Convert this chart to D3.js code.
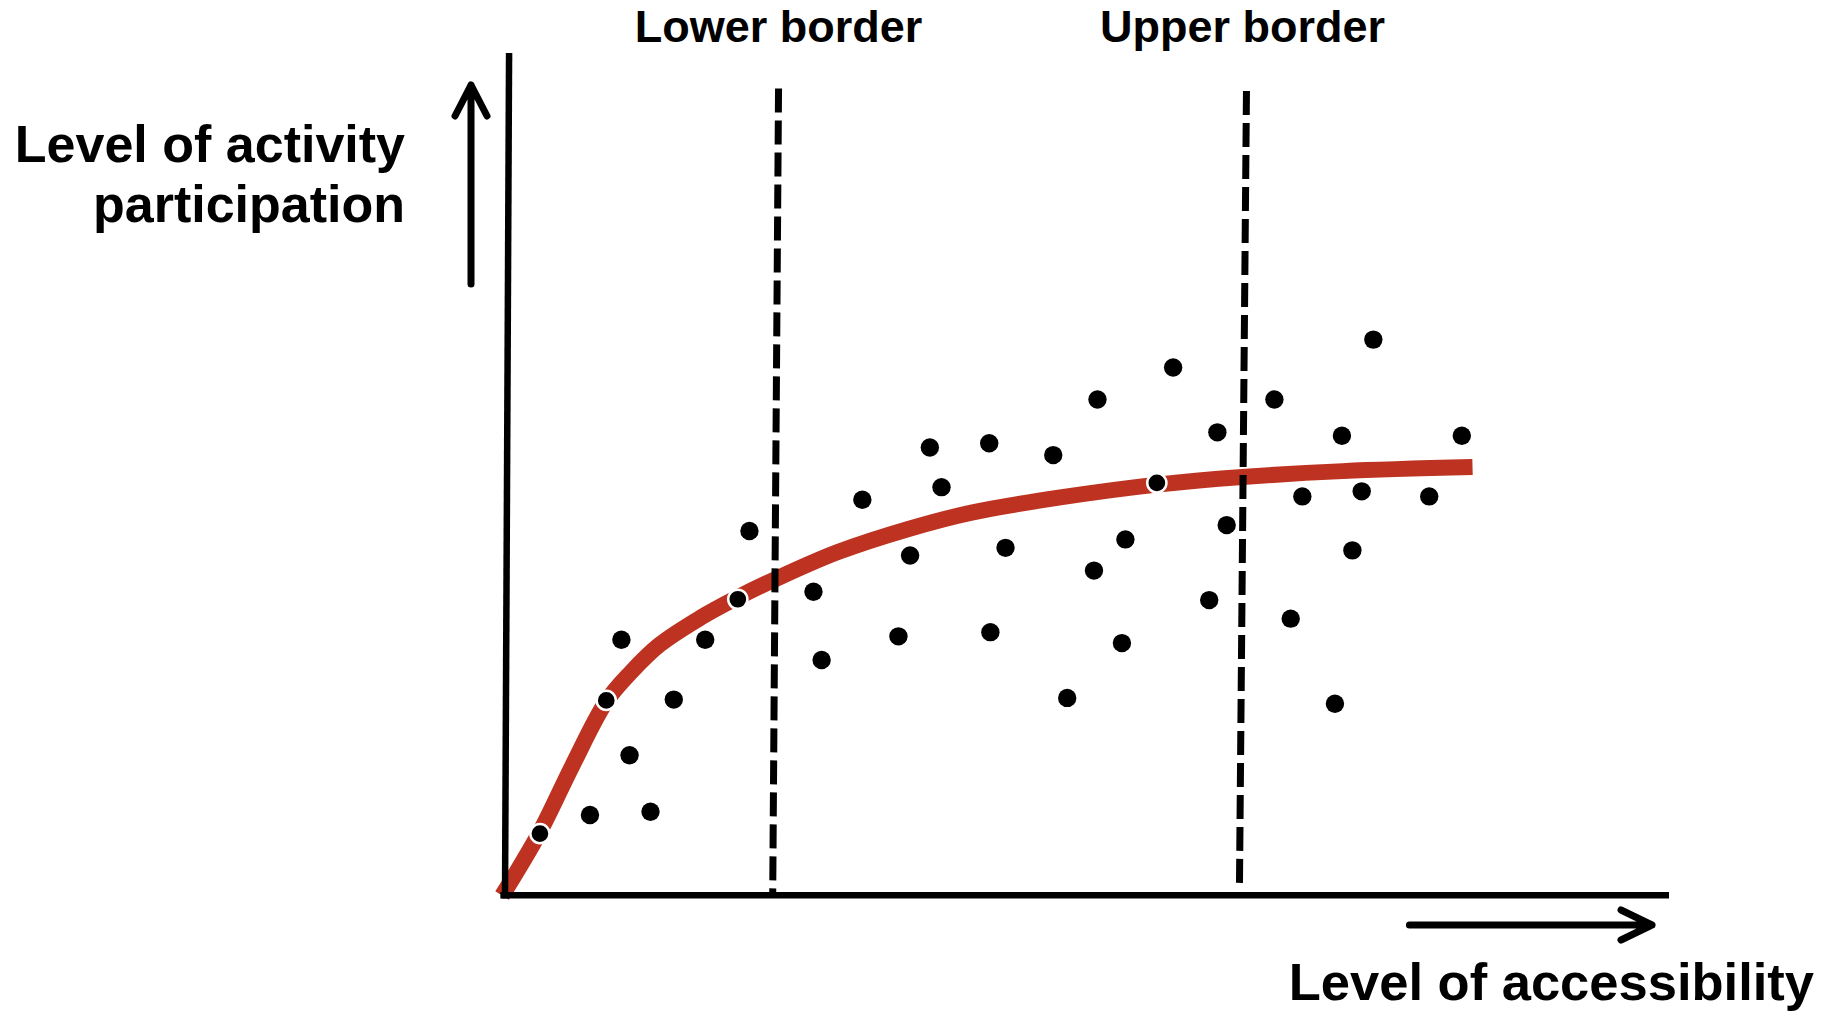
<!DOCTYPE html>
<html>
<head>
<meta charset="utf-8">
<script src="https://cdn.jsdelivr.net/npm/d3@7"></script>
<style>
body{margin:0;background:#fff;}
.lbl{font-family:"Liberation Sans",Arial,sans-serif;font-weight:bold;fill:#000;}
</style>
</head>
<body>
<div id="chart"></div>
<script>
var w = 1831;
var h = 1012;

// observations, in % of the axis length (x = accessibility, y = participation)
var dotX = [7.3, 10.0, 10.7, 12.5, 14.5, 17.2, 21.0, 26.5, 27.2, 30.7, 33.8, 34.8, 36.5, 37.5, 41.6, 41.7, 43.0, 47.1,
            48.3, 50.6, 50.9, 53.0, 53.3, 57.4, 60.5, 61.2, 62.0, 66.1, 67.5, 68.5, 71.3, 71.9, 72.8, 73.6, 74.6, 79.4, 82.2];
var dotY = [9.6, 30.4, 16.7, 10.0, 23.3, 30.4, 43.3, 36.1, 28.0, 47.0, 30.8, 40.4, 53.2, 48.5, 53.7, 31.3, 41.3, 52.3,
            23.5, 38.6, 58.9, 30.0, 42.3, 62.7, 35.1, 55.0, 44.0, 58.9, 32.9, 47.4, 22.8, 54.6, 41.0, 48.0, 66.0, 47.4, 54.6];
// observations lying on the fitted curve (drawn with a white ring)
var ringX = [3.0, 8.7, 20.0, 56.0];
var ringY = [7.4, 23.2, 35.2, 49.0];

// fitted curve
var curveX = [-0.25, 2.96, 5.77, 8.68, 10.79, 13.3, 16.8, 19.91, 23.22, 28.54, 34.66, 40.08, 47.71, 56.03, 63.35, 71.98, 83.12];
var curveY = [0.05, 7.52, 15.42, 23.04, 26.5, 29.82, 33.01, 35.36, 37.58, 40.77, 43.54, 45.48, 47.28, 48.8, 49.7, 50.4, 50.88];

// border lines
var borderNames = ["Lower border", "Upper border"];
var borderTopX = [23.5, 63.7];
var borderBottomX = [23.0, 63.1];
var borderTopY = [95.8, 95.5];
var borderBottomY = [0.4, 1.5];
var borderLabelShift = [0, -4];

var yLabel = ["Level of activity", "participation"];
var xLabel = "Level of accessibility";

var red = "#bd3220";
var svgChart, xScale, yScale;

function setScales(){
  xScale = d3.scaleLinear().domain([0, 100]).range([505, 1669]);
  yScale = d3.scaleLinear().domain([0, 100]).range([896, 53]);
}

function drawCurve(){
  var pts = curveX.map(function(d, i){ return {x: d, y: curveY[i]}; });
  var line = d3.line()
    .x(function(d){ return xScale(d.x); })
    .y(function(d){ return yScale(d.y); })
    .curve(d3.curveCatmullRom.alpha(0.5));
  svgChart.append("path")
    .datum(pts)
    .attr("d", line)
    .attr("fill", "none")
    .attr("stroke", red)
    .attr("stroke-width", 16)
    .attr("stroke-linecap", "butt");
}

function drawDots(){
  svgChart.selectAll(".dot")
    .data(dotX)
    .enter().append("circle")
    .attr("class", "dot")
    .attr("cx", function(d){ return xScale(d); })
    .attr("cy", function(d, i){ return yScale(dotY[i]); })
    .attr("r", 9.2)
    .attr("fill", "#000");

  svgChart.selectAll(".ring")
    .data(ringX)
    .enter().append("circle")
    .attr("class", "ring")
    .attr("cx", function(d){ return xScale(d); })
    .attr("cy", function(d, i){ return yScale(ringY[i]); })
    .attr("r", 9.6)
    .attr("fill", "#000")
    .attr("stroke", "#fff")
    .attr("stroke-width", 2.5);
}

function drawBorders(){
  borderNames.forEach(function(name, i){
    svgChart.append("line")
      .attr("x1", xScale(borderTopX[i]))
      .attr("y1", yScale(borderTopY[i]))
      .attr("x2", xScale(borderBottomX[i]))
      .attr("y2", yScale(borderBottomY[i]))
      .attr("stroke", "#000")
      .attr("stroke-width", 7)
      .attr("stroke-dasharray", "24 8");

    svgChart.append("text")
      .attr("class", "lbl")
      .attr("x", xScale(borderTopX[i]) + borderLabelShift[i])
      .attr("y", 42)
      .attr("text-anchor", "middle")
      .style("font-size", "45px")
      .text(name);
  });
}

function drawAxes(){
  // y axis (slightly leaning, as in the sketch)
  svgChart.append("line")
    .attr("x1", xScale(0.35)).attr("y1", yScale(100))
    .attr("x2", xScale(0)).attr("y2", yScale(-0.3))
    .attr("stroke", "#000").attr("stroke-width", 6.5);
  // x axis
  svgChart.append("line")
    .attr("x1", xScale(-0.4)).attr("y1", yScale(0.1))
    .attr("x2", xScale(100)).attr("y2", yScale(0.1))
    .attr("stroke", "#000").attr("stroke-width", 6.5);

  // arrows
  var ax = xScale(-2.92), ay0 = yScale(72.6), ay1 = 85;
  svgChart.append("path")
    .attr("d", "M" + ax + "," + ay0 + "L" + ax + "," + ay1 +
               "M" + (ax - 16) + "," + (ay1 + 31) + "L" + ax + "," + ay1 + "L" + (ax + 16) + "," + (ay1 + 31))
    .attr("fill", "none").attr("stroke", "#000").attr("stroke-width", 7)
    .attr("stroke-linecap", "round").attr("stroke-linejoin", "round");

  var by = yScale(-3.44), bx0 = xScale(77.7), bx1 = 1652;
  svgChart.append("path")
    .attr("d", "M" + bx0 + "," + by + "L" + bx1 + "," + by +
               "M" + (bx1 - 31) + "," + (by - 15) + "L" + bx1 + "," + by + "L" + (bx1 - 31) + "," + (by + 15))
    .attr("fill", "none").attr("stroke", "#000").attr("stroke-width", 7)
    .attr("stroke-linecap", "round").attr("stroke-linejoin", "round");

  // axis titles
  svgChart.append("text")
    .attr("class", "lbl")
    .attr("text-anchor", "end")
    .style("font-size", "52px")
    .selectAll("tspan")
    .data(yLabel)
    .enter().append("tspan")
    .attr("x", 405)
    .attr("y", function(d, i){ return 162 + i * 60; })
    .text(function(d){ return d; });

  svgChart.append("text")
    .attr("class", "lbl")
    .attr("x", 1814)
    .attr("y", 1000)
    .attr("text-anchor", "end")
    .style("font-size", "52.5px")
    .text(xLabel);
}

function runChart(){
  setScales();
  svgChart = d3.select("#chart")
    .append("svg")
    .attr("width", w)
    .attr("height", h);

  drawCurve();
  drawDots();
  drawBorders();
  drawAxes();
}

runChart();
</script>
</body>
</html>
